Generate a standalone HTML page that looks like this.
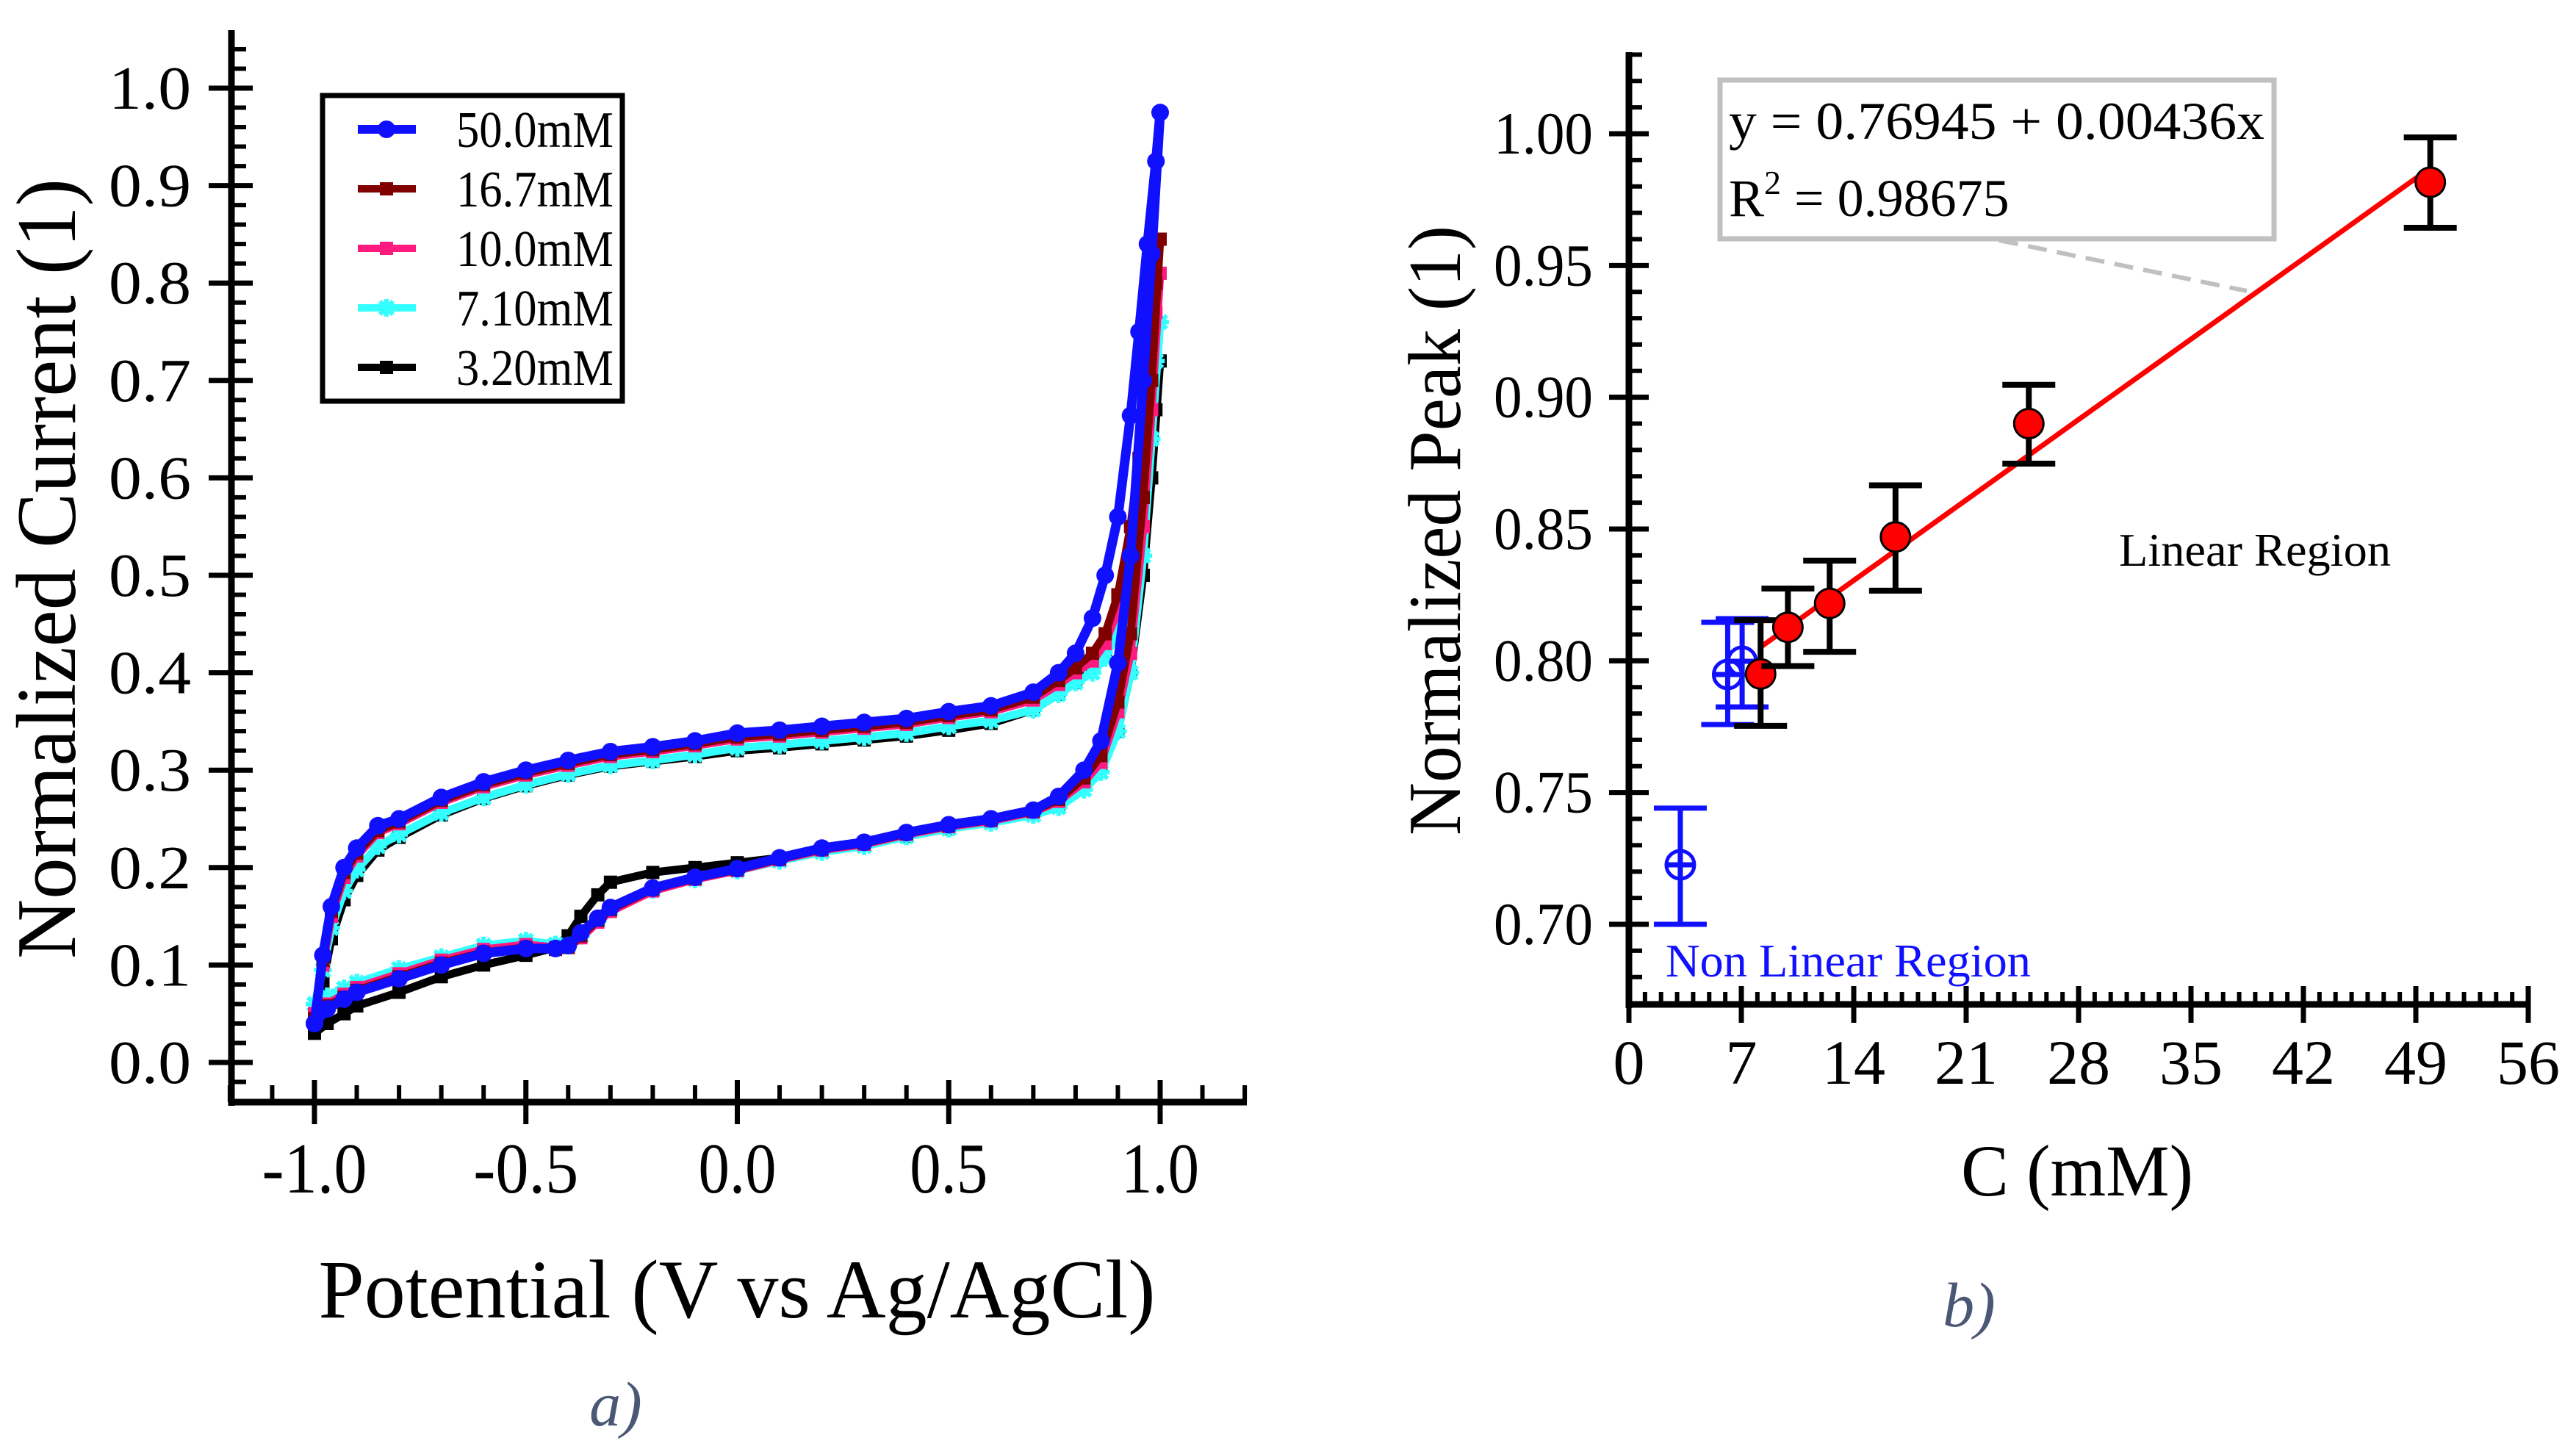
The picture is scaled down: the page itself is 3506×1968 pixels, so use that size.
<!DOCTYPE html>
<html><head><meta charset="utf-8"><style>
html,body{margin:0;padding:0;background:#fff;}
svg{display:block;}
svg text{font-family:"Liberation Serif","Times New Roman",serif;}
</style></head><body>
<svg id="fig" width="3506" height="1968" viewBox="0 0 3506 1968" xmlns="http://www.w3.org/2000/svg" font-family="Liberation Serif, serif">
<g id="cvPlot"></g>
<g id="pkPlot"></g>
</svg>
<script>
// ---------- Chart a) data ----------
const cvPotential = [-1.0,-0.97,-0.93,-0.9,-0.8,-0.7,-0.6,-0.5,-0.43,-0.4,-0.37,-0.33,-0.3,-0.2,-0.1,0.0,0.1,0.2,0.3,0.4,0.5,0.6,0.7,0.76,0.82,0.86,0.9,0.93,0.96,0.98,1.0,
  0.99,0.97,0.95,0.93,0.9,0.87,0.84,0.8,0.76,0.7,0.6,0.5,0.4,0.3,0.2,0.1,0.0,-0.1,-0.2,-0.3,-0.4,-0.5,-0.6,-0.7,-0.8,-0.85,-0.9,-0.93,-0.96,-0.98,-1.0];
const cur50 = [0.04,0.055,0.065,0.072,0.086,0.100,0.112,0.117,0.117,0.120,0.133,0.148,0.159,0.179,0.190,0.199,0.210,0.220,0.226,0.236,0.244,0.250,0.259,0.273,0.300,0.330,0.410,0.520,0.700,0.830,0.975,
  0.925,0.840,0.750,0.664,0.560,0.500,0.456,0.420,0.400,0.380,0.366,0.360,0.353,0.349,0.345,0.341,0.338,0.330,0.324,0.319,0.310,0.300,0.288,0.272,0.250,0.243,0.220,0.200,0.160,0.110,0.040];
const cur167 = [0.045,0.058,0.067,0.074,0.088,0.102,0.113,0.118,0.116,0.118,0.130,0.146,0.157,0.178,0.189,0.198,0.209,0.219,0.225,0.235,0.243,0.249,0.258,0.270,0.292,0.315,0.370,0.440,0.580,0.700,0.845,
  0.800,0.700,0.620,0.550,0.480,0.440,0.420,0.405,0.392,0.375,0.362,0.356,0.349,0.345,0.341,0.337,0.334,0.327,0.321,0.316,0.307,0.297,0.285,0.269,0.247,0.238,0.215,0.195,0.155,0.105,0.045];
const cur100 = [0.05,0.060,0.070,0.077,0.091,0.105,0.116,0.121,0.118,0.118,0.128,0.144,0.155,0.176,0.188,0.197,0.208,0.218,0.224,0.234,0.242,0.248,0.257,0.268,0.288,0.308,0.360,0.420,0.550,0.670,0.810,
  0.770,0.680,0.600,0.530,0.465,0.430,0.412,0.400,0.388,0.372,0.360,0.354,0.347,0.343,0.339,0.335,0.332,0.325,0.319,0.314,0.305,0.295,0.283,0.267,0.245,0.236,0.212,0.190,0.150,0.100,0.050];
const cur71 = [0.06,0.068,0.076,0.082,0.096,0.108,0.120,0.125,0.121,0.120,0.130,0.146,0.157,0.177,0.188,0.197,0.207,0.216,0.222,0.232,0.240,0.246,0.254,0.262,0.280,0.298,0.340,0.400,0.520,0.640,0.760,
  0.720,0.640,0.570,0.505,0.445,0.415,0.400,0.390,0.378,0.362,0.351,0.345,0.338,0.334,0.330,0.326,0.323,0.316,0.310,0.305,0.296,0.285,0.272,0.256,0.234,0.222,0.198,0.176,0.138,0.095,0.060];
const cur32 = [0.03,0.040,0.050,0.058,0.072,0.088,0.100,0.110,0.118,0.130,0.150,0.172,0.185,0.195,0.200,0.205,0.210,0.218,0.224,0.232,0.240,0.247,0.255,0.265,0.285,0.305,0.340,0.400,0.500,0.600,0.720,
  0.670,0.600,0.530,0.480,0.440,0.420,0.405,0.390,0.378,0.362,0.348,0.341,0.335,0.331,0.327,0.323,0.320,0.314,0.309,0.304,0.295,0.284,0.271,0.254,0.231,0.218,0.192,0.167,0.127,0.082,0.030];
const cvSeriesNames = ["3.20mM","7.10mM","10.0mM","16.7mM","50.0mM"];
const cvXTicks = ["-1.0","-0.5","0.0","0.5","1.0"];
const cvYTicks = ["0.0","0.1","0.2","0.3","0.4","0.5","0.6","0.7","0.8","0.9","1.0"];

// ---------- Chart b) data ----------
const linConc = [8.2,9.9,12.5,16.6,24.9,49.9];
const linPeak = [0.795,0.8127,0.8218,0.847,0.890,0.9816];
const linErrHi = [0.8154,0.8274,0.838,0.8666,0.9047,0.9986];
const linErrLo = [0.7753,0.798,0.8034,0.8266,0.8748,0.9643];
const nonConc = [3.2,6.15,7.05];
const nonPeak = [0.7226,0.7948,0.7998];
const nonErrHi = [0.7441,0.8146,0.816];
const nonErrLo = [0.700,0.7758,0.7825];
const fitIntercept = 0.76945;
const fitSlope = 0.00436;
const fitRange = [8.2,49.9];
const pkXTicks = ["0","7","14","21","28","35","42","49","56"];
const pkYTicks = ["0.70","0.75","0.80","0.85","0.90","0.95","1.00"];

const NS="http://www.w3.org/2000/svg";
function mk(parent, tag, attrs, text){
  const e=document.createElementNS(NS,tag);
  for(const k in attrs) e.setAttribute(k,attrs[k]);
  if(tag==='text') e.setAttribute('font-family','Liberation Serif, serif');
  if(text!==undefined) e.textContent=text;
  parent.appendChild(e); return e;
}

// ===== chart a =====
const A=document.getElementById('cvPlot');
const ax=v=>428+(v+1)*575.5;
const ay=v=>1446-v*1326;
let e;
e=mk(A,'line',{x1:315,y1:41,x2:315,y2:1505,stroke:'#000','stroke-width':9});


e=mk(A,'line',{x1:311,y1:1500,x2:1697,y2:1500,stroke:'#000','stroke-width':9});


for(let i=-12;i<=12;i++){
  const x=ax(i/10), major=(i%5===0);
  e=mk(A,'line',{x1:x,y1:major?1470:1477,x2:x,y2:major?1530:1500,stroke:'#000','stroke-width':major?7:6});
  
  
}
for(let i=-2;i<=53;i++){
  const v=i/50, major=(i%5===0);
  const y=ay(v);
  if(y<45) continue;
  e=mk(A,'line',{x1:major?284:315,y1:y,x2:major?344:335,y2:y,stroke:'#000','stroke-width':major?7:6});
  
  
}
cvXTicks.forEach(t=>{
  e=mk(A,'text',{x:ax(parseFloat(t)),y:1623,'font-size':97,'text-anchor':'middle',textLength:t.length>3?143:106,lengthAdjust:'spacingAndGlyphs'},t);
  
  
});
cvYTicks.forEach(t=>{
  e=mk(A,'text',{x:260,y:ay(parseFloat(t))+28,'font-size':84,'text-anchor':'end',textLength:112,lengthAdjust:'spacingAndGlyphs'},t);
  
  
});
e=mk(A,'text',{x:0,y:0,'font-size':115,'text-anchor':'middle',textLength:1062,lengthAdjust:'spacingAndGlyphs',transform:'translate(102,774) rotate(-90)'},'Normalized Current (1)');


e=mk(A,'text',{x:1003,y:1793,'font-size':113,'text-anchor':'middle',textLength:1139,lengthAdjust:'spacingAndGlyphs'},'Potential (V vs Ag/AgCl)');


e=mk(A,'text',{x:838,y:1940,'font-size':86,'font-style':'italic','text-anchor':'middle',fill:'#4a5875'},'a)');



const cvData=[cur32,cur71,cur100,cur167,cur50];
const cvColors=['#000000','#33ffff','#ff1a80','#800000','#1010ff'];
const cvMarkers=['square','star','square','square','circle'];
function marker(g,type,x,y,col){
  if(type==='circle') return mk(g,'circle',{cx:x,cy:y,r:12,fill:col});
  if(type==='square') return mk(g,'rect',{x:x-9,y:y-9,width:18,height:18,fill:col});
  return mk(g,'path',{d:`M${x-12} ${y}H${x+12}M${x} ${y-12}V${y+12}M${x-9} ${y-9}L${x+9} ${y+9}M${x-9} ${y+9}L${x+9} ${y-9}`,stroke:col,'stroke-width':6});
}
cvData.forEach((arr,si)=>{
  const g=mk(A,'g',{});
  
  
  const pts=arr.map((v,i)=>ax(cvPotential[i]).toFixed(1)+','+ay(v).toFixed(1)).join(' ');
  const pl=mk(g,'polyline',{points:pts,fill:'none',stroke:cvColors[si],'stroke-width':si===4?13:11,'stroke-linejoin':'round'});
  
  
  arr.forEach((v,i)=>{
    const m=marker(g,cvMarkers[si],ax(cvPotential[i]),ay(v),cvColors[si]);
    
    
  });
});
const L=mk(A,'g',{});


e=mk(L,'rect',{x:439,y:130,width:408,height:416,fill:'#fff',stroke:'#000','stroke-width':7});


const legOrder=[4,3,2,1,0];
legOrder.forEach((si,r)=>{
  const y=176+r*81;
  const g=mk(L,'g',{});
  
  
  mk(g,'line',{x1:487,y1:y,x2:566,y2:y,stroke:cvColors[si],'stroke-width':si===4?12:10});
  marker(g,cvMarkers[si],526,y,cvColors[si]);
  mk(g,'text',{x:621,y:y+24,'font-size':70,textLength:214,lengthAdjust:'spacingAndGlyphs'},cvSeriesNames[si]);
});

// ===== chart b =====
const B=document.getElementById('pkPlot');
const bx=v=>2217+v*(1224/56);
const by=v=>182+(1.0-v)*(1076/0.30);
e=mk(B,'line',{x1:2217,y1:71,x2:2217,y2:1372,stroke:'#000','stroke-width':9});


e=mk(B,'line',{x1:2213,y1:1367,x2:3444,y2:1367,stroke:'#000','stroke-width':9});


for(let i=0;i<=56;i++){
  const x=bx(i), major=(i%7===0);
  e=mk(B,'line',{x1:x,y1:major?1342:1350,x2:x,y2:major?1392:1367,stroke:'#000','stroke-width':major?7:6});
  
  
}
for(let i=67;i<=103;i++){
  const v=i/100, major=(i%5===0), y=by(v);
  e=mk(B,'line',{x1:major?2190:2217,y1:y,x2:major?2244:2235,y2:y,stroke:'#000','stroke-width':major?7:6});
  
  
}
pkXTicks.forEach(t=>{
  e=mk(B,'text',{x:bx(parseFloat(t)),y:1475,'font-size':86,'text-anchor':'middle'},t);
  
  
});
pkYTicks.forEach(t=>{
  e=mk(B,'text',{x:2168,y:by(parseFloat(t))+27,'font-size':82,'text-anchor':'end',textLength:135,lengthAdjust:'spacingAndGlyphs'},t);
  
  
});
e=mk(B,'text',{x:0,y:0,'font-size':102,'text-anchor':'middle',textLength:830,lengthAdjust:'spacingAndGlyphs',transform:'translate(1987,722) rotate(-90)'},'Normalized Peak (1)');


e=mk(B,'text',{x:2827,y:1627,'font-size':100,'text-anchor':'middle',textLength:316,lengthAdjust:'spacingAndGlyphs'},'C (mM)');


e=mk(B,'text',{x:2680,y:1805,'font-size':86,'font-style':'italic','text-anchor':'middle',fill:'#4a5875'},'b)');



e=mk(B,'line',{x1:2721,y1:327,x2:3058,y2:396,stroke:'#c0c0c0','stroke-width':6,'stroke-dasharray':'26 14'});


const EB=mk(B,'g',{});


mk(EB,'rect',{x:2341,y:109,width:754,height:216,fill:'#fff',stroke:'#c0c0c0','stroke-width':7});
e=mk(EB,'text',{x:2353,y:189,'font-size':72,textLength:729,lengthAdjust:'spacingAndGlyphs'},'y = '+fitIntercept+' + '+fitSlope+'x');


e=mk(EB,'text',{x:2353,y:294,'font-size':72},'');


e.innerHTML='R<tspan dy="-30" font-size="46">2</tspan><tspan dy="30"> = 0.98675</tspan>';

e=mk(B,'line',{x1:bx(fitRange[0]),y1:by(fitIntercept+fitSlope*fitRange[0]),x2:bx(fitRange[1]),y2:by(fitIntercept+fitSlope*fitRange[1]),stroke:'#ff0000','stroke-width':7});



nonConc.forEach((c,i)=>{
  const g=mk(B,'g',{});
  
  
  const x=bx(c), y=by(nonPeak[i]), yh=by(nonErrHi[i]), yl=by(nonErrLo[i]);
  mk(g,'path',{d:`M${x} ${yh}V${yl}M${x-36} ${yh}H${x+36}M${x-36} ${yl}H${x+36}M${x-20} ${y}H${x+20}`,stroke:'#1010ff','stroke-width':7,fill:'none'});
  mk(g,'circle',{cx:x,cy:y,r:19,fill:'none',stroke:'#1010ff','stroke-width':5});
});
linConc.forEach((c,i)=>{
  const g=mk(B,'g',{});
  
  
  const x=bx(c), y=by(linPeak[i]), yh=by(linErrHi[i]), yl=by(linErrLo[i]);
  mk(g,'path',{d:`M${x} ${yh}V${yl}M${x-36} ${yh}H${x+36}M${x-36} ${yl}H${x+36}`,stroke:'#000','stroke-width':8,fill:'none'});
  mk(g,'circle',{cx:x,cy:y,r:20,fill:'#ff0000',stroke:'#000','stroke-width':3});
});
e=mk(B,'text',{x:2884,y:770,'font-size':64,textLength:370,lengthAdjust:'spacingAndGlyphs'},'Linear Region');


e=mk(B,'text',{x:2267,y:1329,'font-size':64,fill:'#1010ff',textLength:497,lengthAdjust:'spacingAndGlyphs'},'Non Linear Region');


</script>
</body></html>
